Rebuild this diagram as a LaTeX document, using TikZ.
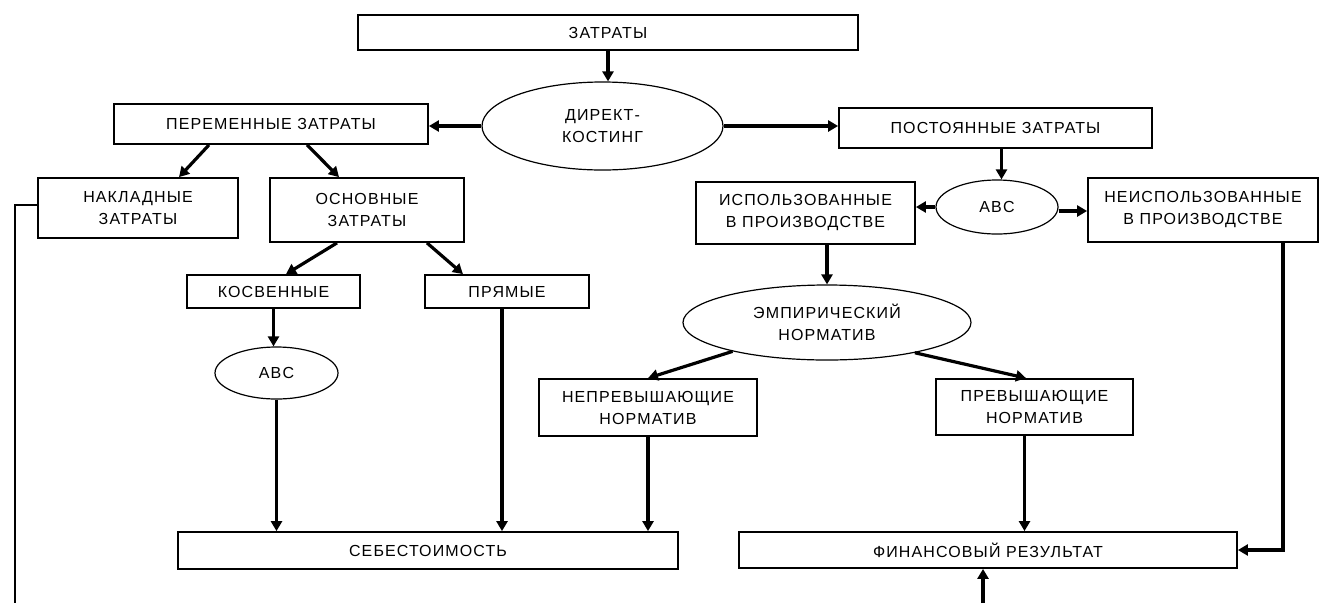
\documentclass[tikz,border=0pt]{standalone}
\usepackage{fontspec}
\usetikzlibrary{shapes.geometric,arrows.meta,calc}
\newfontfamily\lsf[LetterSpace=7]{Liberation Sans}
\begin{document}
\begin{tikzpicture}[x=1pt,y=-1pt,
  txt/.style={font=\lsf\fontsize{16}{22}\selectfont, align=center, inner sep=0pt},
  box/.style={txt, draw, rectangle, line width=1.8pt},
  ell/.style={txt, draw, ellipse, line width=1.2pt},
  arr/.style={line width=3.2pt, -{Triangle[length=10pt,width=11pt]}},
  plain/.style={line width=2pt}]
\useasboundingbox (0,0) rectangle (1321,603);
\fill[white] (0,0) rectangle (1321,603);

\node[box, minimum width=500pt, minimum height=35pt] (zat) at (608,32.5) {ЗАТРАТЫ};
\node[ell, minimum width=241pt, minimum height=88pt] (dk) at (602.5,126) {ДИРЕКТ-\\КОСТИНГ};
\node[box, minimum width=314pt, minimum height=40pt] (per) at (271,124) {ПЕРЕМЕННЫЕ ЗАТРАТЫ};
\node[box, minimum width=313pt, minimum height=40pt] (post) at (995.5,128) {ПОСТОЯННЫЕ ЗАТРАТЫ};
\node[box, minimum width=200pt, minimum height=60pt] (nak) at (138,208) {НАКЛАДНЫЕ\\ЗАТРАТЫ};
\node[box, minimum width=194pt, minimum height=64pt] (osn) at (367,210) {ОСНОВНЫЕ\\ЗАТРАТЫ};
\node[box, minimum width=173pt, minimum height=33pt] (kos) at (273.5,291.5) {КОСВЕННЫЕ};
\node[box, minimum width=164pt, minimum height=33pt] (pr) at (507,291.5) {ПРЯМЫЕ};
\node[ell, minimum width=123pt, minimum height=52pt] (abc1) at (276.5,373) {ABC};
\node[box, minimum width=219pt, minimum height=62pt] (isp) at (805.5,213) {ИСПОЛЬЗОВАННЫЕ\\В ПРОИЗВОДСТВЕ};
\node[ell, minimum width=122pt, minimum height=54pt] (abc2) at (997,207) {ABC};
\node[box, minimum width=230pt, minimum height=64pt] (neisp) at (1203,210) {НЕИСПОЛЬЗОВАННЫЕ\\В ПРОИЗВОДСТВЕ};
\node[ell, minimum width=288pt, minimum height=75pt] (emp) at (827,322.5) {ЭМПИРИЧЕСКИЙ\\НОРМАТИВ};
\node[box, minimum width=218pt, minimum height=57pt] (neprev) at (648,407.5) {НЕПРЕВЫШАЮЩИЕ\\НОРМАТИВ};
\node[box, minimum width=197pt, minimum height=56pt] (prev) at (1034.5,407) {ПРЕВЫШАЮЩИЕ\\НОРМАТИВ};
\node[box, minimum width=500pt, minimum height=37pt] (seb) at (428,550.5) {СЕБЕСТОИМОСТЬ};
\node[box, minimum width=498pt, minimum height=36pt] (fin) at (988,550) {ФИНАНСОВЫЙ РЕЗУЛЬТАТ};

\coordinate (lb) at (15,603);
\coordinate (fb) at (983,603);

\draw[arr] (zat.south) -- (zat.south |- dk.north);
\draw[arr] (dk.west) -- (dk.west -| per.east);
\draw[arr] (dk.east) -- (dk.east -| post.west);
\draw[arr] ([xshift=-62pt]per.south) -- ([xshift=41pt]nak.north);
\draw[arr] ([xshift=36pt]per.south) -- ([xshift=-28pt]osn.north);
\draw[arr] ([xshift=-30pt]osn.south) -- ([xshift=12.5pt]kos.north);
\draw[arr] ([xshift=60pt]osn.south) -- ([xshift=-44pt]pr.north);
\draw[arr] (kos.south) -- (kos.south |- abc1.north);
\draw[arr] (abc1.south) -- (abc1.south |- seb.north);
\draw[arr] ([xshift=-5pt]pr.south) -- ([xshift=-5pt]pr.south |- seb.north);
\draw[arr] (neprev.south) -- (neprev.south |- seb.north);
\draw[arr] ([xshift=6pt]post.south) -- ([xshift=6pt]post.south |- abc2.north);
\draw[arr] (abc2.west) -- (abc2.west -| isp.east);
\draw[arr] ([yshift=-4pt]abc2.east) -- ([yshift=-4pt]abc2.east -| neisp.west);
\draw[arr] (emp.north |- isp.south) -- (emp.north);
\draw[arr] (emp.197) -- (neprev.north);
\draw[arr] (emp.341) -- ([xshift=-8.5pt]prev.north);
\draw[arr] ([xshift=-10pt]prev.south) -- ([xshift=-10pt]prev.south |- fin.north);
\draw[arr] ([xshift=80pt]neisp.south) |- (fin.east);
\draw[plain] ([yshift=3pt]nak.west) -| (lb);
\draw[arr] (fb) -- (fb |- fin.south);
\end{tikzpicture}
\end{document}
